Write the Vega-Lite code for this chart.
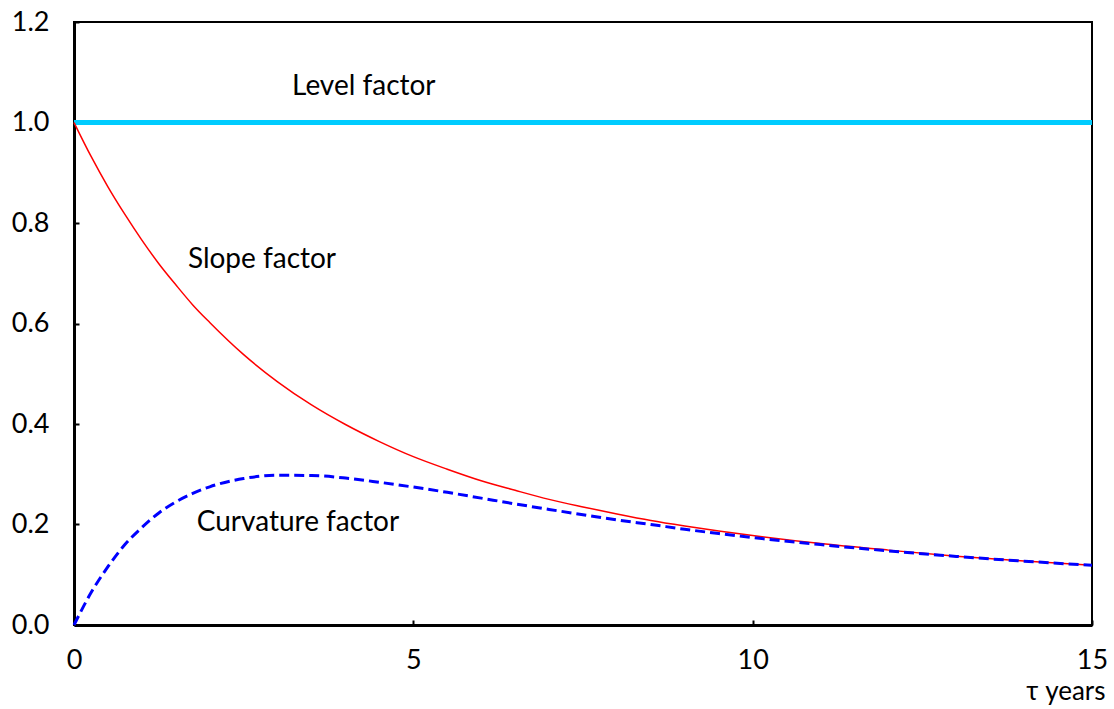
{
  "$schema": "https://vega.github.io/schema/vega-lite/v6.json",
  "width": 1018,
  "height": 603,
  "autosize": "none",
  "padding": {"left": 74, "top": 22, "right": 22, "bottom": 84},
  "config": {
    "font": "Lato",
    "view": {"stroke": "#000000", "strokeWidth": 2},
    "axis": {"grid": false, "domainColor": "#000000", "domainWidth": 3, "tickColor": "#000000", "tickWidth": 2, "labelFont": "Lato", "labelFontSize": 27, "labelColor": "#000000", "titleFont": "Lato", "titleFontSize": 26, "titleColor": "#000000", "titleFontWeight": "normal"}
  },
  "datasets": {
    "curves": [
      {"tau": 0, "value": 1, "factor": "Level"},
      {"tau": 15, "value": 1, "factor": "Level"},
      {"tau": 0, "value": 1.0, "factor": "Slope"},
      {"tau": 0.25, "value": 0.933, "factor": "Slope"},
      {"tau": 0.5, "value": 0.872, "factor": "Slope"},
      {"tau": 0.75, "value": 0.817, "factor": "Slope"},
      {"tau": 1, "value": 0.766, "factor": "Slope"},
      {"tau": 1.25, "value": 0.719, "factor": "Slope"},
      {"tau": 1.5, "value": 0.677, "factor": "Slope"},
      {"tau": 1.75, "value": 0.637, "factor": "Slope"},
      {"tau": 2, "value": 0.602, "factor": "Slope"},
      {"tau": 2.5, "value": 0.538, "factor": "Slope"},
      {"tau": 3, "value": 0.484, "factor": "Slope"},
      {"tau": 3.5, "value": 0.438, "factor": "Slope"},
      {"tau": 4, "value": 0.399, "factor": "Slope"},
      {"tau": 4.5, "value": 0.365, "factor": "Slope"},
      {"tau": 5, "value": 0.335, "factor": "Slope"},
      {"tau": 5.5, "value": 0.310, "factor": "Slope"},
      {"tau": 6, "value": 0.287, "factor": "Slope"},
      {"tau": 6.5, "value": 0.268, "factor": "Slope"},
      {"tau": 7, "value": 0.250, "factor": "Slope"},
      {"tau": 7.5, "value": 0.235, "factor": "Slope"},
      {"tau": 8, "value": 0.221, "factor": "Slope"},
      {"tau": 8.5, "value": 0.208, "factor": "Slope"},
      {"tau": 9, "value": 0.197, "factor": "Slope"},
      {"tau": 9.5, "value": 0.187, "factor": "Slope"},
      {"tau": 10, "value": 0.178, "factor": "Slope"},
      {"tau": 11, "value": 0.162, "factor": "Slope"},
      {"tau": 12, "value": 0.149, "factor": "Slope"},
      {"tau": 13, "value": 0.137, "factor": "Slope"},
      {"tau": 14, "value": 0.1275, "factor": "Slope"},
      {"tau": 15, "value": 0.119, "factor": "Slope"},
      {"tau": 0, "value": 0.0, "factor": "Curvature"},
      {"tau": 0.25, "value": 0.064, "factor": "Curvature"},
      {"tau": 0.5, "value": 0.116, "factor": "Curvature"},
      {"tau": 0.75, "value": 0.160, "factor": "Curvature"},
      {"tau": 1, "value": 0.194, "factor": "Curvature"},
      {"tau": 1.25, "value": 0.223, "factor": "Curvature"},
      {"tau": 1.5, "value": 0.245, "factor": "Curvature"},
      {"tau": 1.75, "value": 0.262, "factor": "Curvature"},
      {"tau": 2, "value": 0.275, "factor": "Curvature"},
      {"tau": 2.5, "value": 0.2915, "factor": "Curvature"},
      {"tau": 3, "value": 0.298, "factor": "Curvature"},
      {"tau": 3.5, "value": 0.2975, "factor": "Curvature"},
      {"tau": 4, "value": 0.2925, "factor": "Curvature"},
      {"tau": 4.5, "value": 0.284, "factor": "Curvature"},
      {"tau": 5, "value": 0.2745, "factor": "Curvature"},
      {"tau": 5.5, "value": 0.264, "factor": "Curvature"},
      {"tau": 6, "value": 0.2525, "factor": "Curvature"},
      {"tau": 6.5, "value": 0.241, "factor": "Curvature"},
      {"tau": 7, "value": 0.230, "factor": "Curvature"},
      {"tau": 7.5, "value": 0.2195, "factor": "Curvature"},
      {"tau": 8, "value": 0.209, "factor": "Curvature"},
      {"tau": 8.5, "value": 0.200, "factor": "Curvature"},
      {"tau": 9, "value": 0.1905, "factor": "Curvature"},
      {"tau": 9.5, "value": 0.182, "factor": "Curvature"},
      {"tau": 10, "value": 0.174, "factor": "Curvature"},
      {"tau": 11, "value": 0.160, "factor": "Curvature"},
      {"tau": 12, "value": 0.1475, "factor": "Curvature"},
      {"tau": 13, "value": 0.1365, "factor": "Curvature"},
      {"tau": 14, "value": 0.127, "factor": "Curvature"},
      {"tau": 15, "value": 0.1188, "factor": "Curvature"}
    ],
    "labels": [
      {"tau": 4.27, "value": 1.07, "label": "Level factor"},
      {"tau": 2.77, "value": 0.726, "label": "Slope factor"},
      {"tau": 3.3, "value": 0.203, "label": "Curvature factor"}
    ]
  },
  "data": {"name": "curves"},
  "encoding": {
    "x": {"field": "tau", "type": "quantitative", "scale": {"domain": [0, 15], "nice": false, "zero": false},
      "axis": {"values": [0, 5, 10, 15], "format": "d", "tickSize": -5, "labelPadding": 27, "labelFlush": false, "title": "τ years", "titleAnchor": "end", "titleAlign": "right", "titleBaseline": "alphabetic", "titleX": 1031, "titleY": 74}},
    "y": {"field": "value", "type": "quantitative", "scale": {"domain": [0, 1.2], "nice": false},
      "axis": {"values": [0, 0.2, 0.4, 0.6, 0.8, 1.0, 1.2], "format": ".1f", "tickSize": -5, "labelPadding": 30, "labelFlush": false, "title": null}}
  },
  "layer": [
    {"transform": [{"filter": "datum.factor === 'Level'"}], "mark": {"type": "line", "color": "#00CCFF", "strokeWidth": 5, "clip": false}},
    {"transform": [{"filter": "datum.factor === 'Slope'"}], "mark": {"type": "line", "color": "#FF0000", "strokeWidth": 1.5, "interpolate": "monotone"}},
    {"transform": [{"filter": "datum.factor === 'Curvature'"}], "mark": {"type": "line", "color": "#0000FF", "strokeWidth": 3, "strokeDash": [10, 5], "interpolate": "monotone"}},
    {"data": {"name": "labels"},
      "mark": {"type": "text", "fontSize": 28, "font": "Lato", "color": "#000000", "align": "center", "baseline": "middle"},
      "encoding": {"text": {"field": "label"}}}
  ]
}
